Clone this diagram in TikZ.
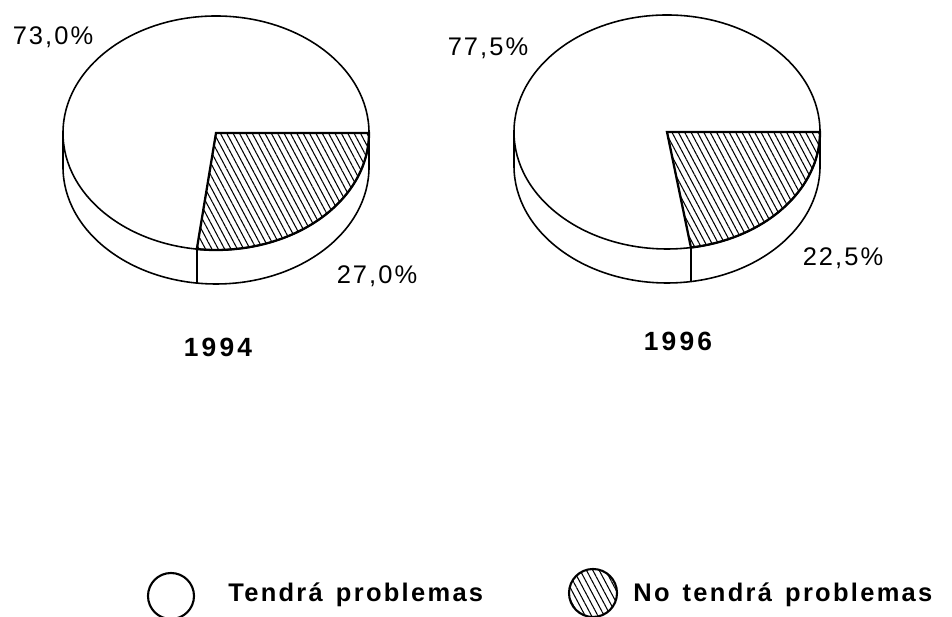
\documentclass[tikz,border=0pt]{standalone}
\usepackage{fontspec}
\setmainfont{Liberation Sans}
\newfontfamily\pctfont[LetterSpace=8]{Liberation Sans}
\newfontfamily\boldfont[LetterSpace=12]{Liberation Sans}
\newfontfamily\legfont[LetterSpace=9,WordSpace=1.4]{Liberation Sans}
\usetikzlibrary{patterns.meta,positioning}

\begin{document}
\begin{tikzpicture}[x=0.02cm,y=0.02cm,
	pct/.style={font=\pctfont\fontsize{14.5}{14.5}\selectfont, inner sep=0pt},
	year/.style={font=\boldfont\bfseries\fontsize{15}{15}\selectfont, inner sep=0pt},
	legtext/.style={font=\legfont\bfseries\fontsize{14.5}{14.5}\selectfont, anchor=base west, inner sep=0pt},
	hatch/.style={pattern={Lines[angle=-62,distance=3.2pt,line width=0.6pt]}},
	outline/.style={line width=0.9pt}]
	\useasboundingbox (0,0) rectangle (952,617);
	% the two pies: centre, share of "no tendra" in degrees, name
	\foreach \cx/\cy/\ang/\nm in {216/484/97.2/a, 667/485/81/b}{
		\begin{scope}[shift={(\cx,\cy)}, outline]
			\draw[fill=white] (-153,0) -- (-153,-34) arc[start angle=180, end angle=360, x radius=153, y radius=117] -- (153,0);
			\draw[fill=white] (0,0) coordinate (c-\nm) ellipse[x radius=153, y radius=117];
			\draw (-\ang:153 and 117) coordinate (e-\nm) -- ++(0,-34);
			\draw[hatch, line width=1.3pt] (c-\nm) -- (153,0) arc[start angle=0, end angle=-\ang, x radius=153, y radius=117] -- cycle;
		\end{scope}
	}
	\node[pct] (p-a1) at (53,580) {73,0\%};
	\node[pct] (p-a2) at (377,341) {27,0\%};
	\node[pct] (p-b1) at (488,569) {77,5\%};
	\node[pct] (p-b2) at (843,359) {22,5\%};
	\node[year] (y-a) at (218,270) {1994};
	\node[year] (y-b) at (678,276) {1996};
	% legend
	\draw[line width=1.2pt] (171,21) circle[radius=23];
	\node[legtext] (l-a) at (228,15) {Tendrá problemas};
	\draw[line width=1.2pt, hatch] (593,24) circle[radius=24];
	\node[legtext] (l-b) at (633,15) {No tendrá problemas};
\end{tikzpicture}
\end{document}
